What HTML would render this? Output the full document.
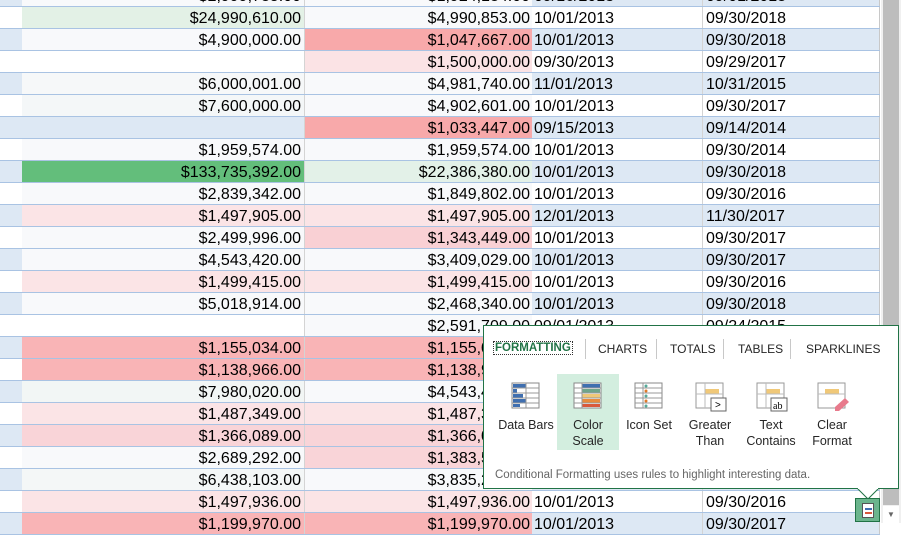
<!DOCTYPE html>
<html><head><meta charset="utf-8"><style>
*{margin:0;padding:0;box-sizing:border-box}
body{width:901px;height:523px;overflow:hidden;background:#fff;position:relative;font-family:"Liberation Sans",Arial,sans-serif}
.r{position:absolute;left:0;width:880px;height:22px;border-bottom:1px solid #a9c3e3;font-size:16px;color:#000}
.r div{position:absolute;top:0;height:21px;line-height:23px;white-space:nowrap;overflow:hidden}
.a{left:0;width:22px}
.b{left:22px;width:283px;text-align:right;padding-right:3px;border-right:1px solid #d4d4d4}
.c{left:305px;width:227px;text-align:right;padding-right:2px}
.d{left:532px;width:171px;padding-left:2px;border-right:1px solid #d4d4d4}
.e{left:703px;width:177px;padding-left:3px;border-right:1px solid #c8c8c8}
#sb{position:absolute;left:881px;top:0;width:20px;height:523px;background:#f0f0f0}
#th{position:absolute;left:883px;top:0;width:16px;height:505px;background:#bdbdbd}
#pop{position:absolute;left:483px;top:325px;width:416px;height:164px;background:#fff;border:1px solid #217346;font-size:12.5px;color:#262626}
.tab{position:absolute;top:16px;font-size:12px}
.sep{position:absolute;top:13px;width:1px;height:20px;background:#c8c8c8}
.lbl{position:absolute;top:91px;text-align:center;width:70px;line-height:16px;font-size:12.5px}
.ic{position:absolute;top:56px}
</style></head><body>
<div id="rows"></div>
<script>
var D=[
["#f8f9fb","$2,999,785.00","#f8f9fb","$1,924,184.00","09/16/2013","09/01/2018"],
["#e3f1e6","$24,990,610.00","#f8f9fb","$4,990,853.00","10/01/2013","09/30/2018"],
["#f8f9fb","$4,900,000.00","#f8a9aa","$1,047,667.00","10/01/2013","09/30/2018"],
["","","#fbe3e5","$1,500,000.00","09/30/2013","09/29/2017"],
["#f6f8f9","$6,000,001.00","#f8f9fb","$4,981,740.00","11/01/2013","10/31/2015"],
["#f4f7f8","$7,600,000.00","#f8f9fb","$4,902,601.00","10/01/2013","09/30/2017"],
["","","#f8a9aa","$1,033,447.00","09/15/2013","09/14/2014"],
["#f8f9fb","$1,959,574.00","#f8f9fb","$1,959,574.00","10/01/2013","09/30/2014"],
["#63be7b","$133,735,392.00","#e3f1e8","$22,386,380.00","10/01/2013","09/30/2018"],
["#f8f9fb","$2,839,342.00","#f8f9fb","$1,849,802.00","10/01/2013","09/30/2016"],
["#fbe4e6","$1,497,905.00","#fbe4e6","$1,497,905.00","12/01/2013","11/30/2017"],
["#f8f9fb","$2,499,996.00","#f9d0d4","$1,343,449.00","10/01/2013","09/30/2017"],
["#f8f9fb","$4,543,420.00","#f8f9fb","$3,409,029.00","10/01/2013","09/30/2017"],
["#fbe4e6","$1,499,415.00","#fbe4e6","$1,499,415.00","10/01/2013","09/30/2016"],
["#f8f9fb","$5,018,914.00","#f8f9fb","$2,468,340.00","10/01/2013","09/30/2018"],
["","","#f8f9fb","$2,591,709.00","09/01/2013","09/24/2015"],
["#f9b4b6","$1,155,034.00","#f9b4b6","$1,155,034.00","10/01/2013","09/30/2016"],
["#f9b4b6","$1,138,966.00","#f9b4b6","$1,138,966.00","10/01/2013","09/30/2016"],
["#f2f6f5","$7,980,020.00","#f8f9fb","$4,543,420.00","10/01/2013","09/30/2016"],
["#fbe4e6","$1,487,349.00","#fbe4e6","$1,487,349.00","10/01/2013","09/30/2016"],
["#f9d4d8","$1,366,089.00","#f9d4d8","$1,366,089.00","10/01/2013","09/30/2016"],
["#f8f9fb","$2,689,292.00","#f9d4d8","$1,383,500.00","10/01/2013","09/30/2016"],
["#f4f7f7","$6,438,103.00","#f8f9fb","$3,835,200.00","10/01/2013","09/30/2016"],
["#fbe4e6","$1,497,936.00","#fbe4e6","$1,497,936.00","10/01/2013","09/30/2016"],
["#f9b4b6","$1,199,970.00","#f9b4b6","$1,199,970.00","10/01/2013","09/30/2017"]];
var h="";
D.forEach(function(r,i){var bl=i%2==0;var bg=bl?"#dde8f4":"#fff";
h+='<div class="r" style="top:'+(-15+22*i)+'px;background:'+bg+'"><div class="a"></div>'+
'<div class="b" style="background:'+(r[0]||bg)+'">'+r[1]+'</div>'+
'<div class="c" style="background:'+(r[2]||bg)+'">'+r[3]+'</div>'+
'<div class="d">'+r[4]+'</div><div class="e">'+r[5]+'</div></div>';});
document.getElementById("rows").innerHTML=h;
</script>
<div id="sb"></div><div id="th"></div>
<div style="position:absolute;left:883px;top:506px;width:16px;height:17px;background:#fff;font-size:8px;color:#666;text-align:center;line-height:17px">▼</div>
<div id="pop">
<div class="tab" style="left:10px;color:#217346;font-weight:bold;outline:1px dotted #333;padding:0 1px;font-size:11.5px">FORMATTING</div>
<div class="sep" style="left:101px"></div>
<div class="tab" style="left:114px">CHARTS</div>
<div class="sep" style="left:172px"></div>
<div class="tab" style="left:186px">TOTALS</div>
<div class="sep" style="left:239px"></div>
<div class="tab" style="left:254px">TABLES</div>
<div class="sep" style="left:306px"></div>
<div class="tab" style="left:322px">SPARKLINES</div>
<div style="position:absolute;left:73px;top:48px;width:62px;height:76px;background:#d3eedf"></div>
<svg class="ic" style="left:27px" width="30" height="28"><rect x="1" y="1" width="27" height="25" fill="#fff" stroke="#888"/><g fill="#3f6fb0"><rect x="2" y="2" width="13" height="4"/><rect x="2" y="7" width="4" height="4"/><rect x="2" y="12" width="10" height="4"/><rect x="2" y="17" width="13" height="4"/><rect x="2" y="22" width="7" height="3"/></g><path d="M15 1v25M1 6h27M1 11h27M1 16h27M1 21h27" stroke="#999"/></svg>
<svg class="ic" style="left:89px" width="30" height="28"><rect x="1" y="1" width="27" height="25" fill="#fff" stroke="#888"/><rect x="9" y="2" width="18" height="4" fill="#3f6fb0"/><rect x="9" y="7" width="18" height="4" fill="#6fa58a"/><rect x="9" y="12" width="18" height="4" fill="#f0c878"/><rect x="9" y="17" width="18" height="4" fill="#e88b3c"/><rect x="9" y="22" width="18" height="3" fill="#d9593b"/><path d="M9 1v25M1 6h27M1 11h27M1 16h27M1 21h27" stroke="#999"/></svg>
<svg class="ic" style="left:150px" width="30" height="28"><rect x="1" y="1" width="27" height="25" fill="#fff" stroke="#888"/><path d="M9 1v25M1 6h27M1 11h27M1 16h27M1 21h27" stroke="#999"/><g fill="#e07a2a"><circle cx="12" cy="9" r="1.5"/><circle cx="12" cy="19" r="1.5"/></g><g fill="#5a9"><circle cx="12" cy="4" r="1.5"/><circle cx="12" cy="14" r="1.5"/><circle cx="12" cy="24" r="1.5"/></g></svg>
<svg class="ic" style="left:211px" width="32" height="30"><rect x="1" y="1" width="27" height="25" fill="#fff" stroke="#999"/><rect x="10" y="7" width="14" height="5" fill="#f0c878"/><path d="M1 12h27M10 1v25" stroke="#bbb"/><rect x="16" y="16" width="15" height="13" fill="#fff" stroke="#666"/><text x="20" y="26" font-size="10" font-family="Liberation Sans">&gt;</text></svg>
<svg class="ic" style="left:272px" width="32" height="30"><rect x="1" y="1" width="27" height="25" fill="#fff" stroke="#999"/><rect x="10" y="7" width="14" height="5" fill="#f0c878"/><path d="M1 12h27M10 1v25" stroke="#bbb"/><rect x="15" y="16" width="16" height="13" fill="#fff" stroke="#666"/><text x="17" y="27" font-size="10" font-family="Liberation Serif">ab</text></svg>
<svg class="ic" style="left:333px" width="32" height="30"><rect x="1" y="1" width="27" height="25" fill="#fff" stroke="#999"/><rect x="8" y="7" width="14" height="5" fill="#f0c878"/><path d="M1 12h27" stroke="#bbb"/><path d="M18 25l10-9 4 4-10 9h-4z" fill="#e87a8c"/></svg>
<div class="lbl" style="left:7px">Data Bars</div>
<div class="lbl" style="left:69px">Color<br>Scale</div>
<div class="lbl" style="left:130px">Icon Set</div>
<div class="lbl" style="left:191px">Greater<br>Than</div>
<div class="lbl" style="left:252px">Text<br>Contains</div>
<div class="lbl" style="left:313px">Clear<br>Format</div>
<div style="position:absolute;left:11px;top:143px;font-size:11.5px;color:#666">Conditional Formatting uses rules to highlight interesting data.</div>
</div>
<svg style="position:absolute;left:857px;top:488px" width="22" height="12"><path d="M0 0L11 11L22 0" fill="#fff" stroke="#217346"/><path d="M1 0h20" stroke="#fff" stroke-width="2"/></svg>
<div style="position:absolute;left:855px;top:498px;width:25px;height:24px;background:#6bb58d;border:1px solid #217346"><div style="position:absolute;left:6px;top:4px;width:12px;height:15px;background:#fff;border:1px solid #555"></div><div style="position:absolute;left:9px;top:9px;width:7px;height:2px;background:#3f6fb0"></div><div style="position:absolute;left:9px;top:13px;width:7px;height:2px;background:#d9593b"></div></div>
</body></html>
